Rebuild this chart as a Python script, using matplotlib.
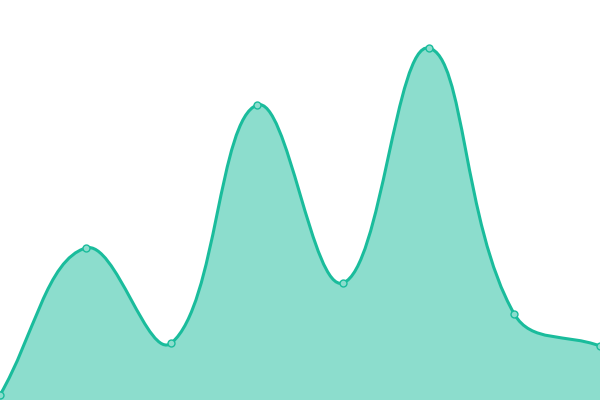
import numpy as np
import matplotlib.pyplot as plt
from matplotlib.path import Path
from matplotlib.patches import PathPatch

# values (0 = bottom edge, 400 = top edge)
x_pos = [0, 1, 2, 3, 4, 5, 6, 7]
values = [5, 152, 57, 295, 117, 352, 86, 54]

line_color = "#1abc9c"
tension = 0.4

fig = plt.figure(figsize=(6, 4), dpi=100)
ax = fig.add_axes([0, 0, 1, 1])
ax.set_xlim(0, 7)
ax.set_ylim(0, 400)
ax.axis("off")

pts = np.column_stack([x_pos, values]).astype(float)
pix = ax.transData.transform(pts)  # distances are measured on screen

# spline control points, same rule as a tension-based bezier spline
cps_prev, cps_next = [], []
n = len(pts)
for i in range(n):
    prev = pts[max(i - 1, 0)]
    nxt = pts[min(i + 1, n - 1)]
    d01 = np.hypot(*(pix[i] - pix[max(i - 1, 0)]))
    d12 = np.hypot(*(pix[min(i + 1, n - 1)] - pix[i]))
    tot = d01 + d12
    s01 = d01 / tot if tot else 0
    s12 = d12 / tot if tot else 0
    cps_prev.append(pts[i] - tension * s01 * (nxt - prev))
    cps_next.append(pts[i] + tension * s12 * (nxt - prev))

verts = [pts[0]]
codes = [Path.MOVETO]
for i in range(n - 1):
    verts += [cps_next[i], cps_prev[i + 1], pts[i + 1]]
    codes += [Path.CURVE4] * 3

line_path = Path(verts, codes)
fill_path = Path(verts + [(x_pos[-1], 0), (x_pos[0], 0), pts[0]],
                 codes + [Path.LINETO, Path.LINETO, Path.CLOSEPOLY])

ax.add_patch(PathPatch(fill_path, facecolor=line_color, alpha=0.5, linewidth=0))
ax.add_patch(PathPatch(line_path, facecolor="none", edgecolor=line_color, linewidth=2.2))
ax.plot(x_pos, values, "o", markersize=5, markerfacecolor="#8cddcd",
        markeredgecolor=line_color, markeredgewidth=1)

fig.savefig("out.png", dpi=100)
